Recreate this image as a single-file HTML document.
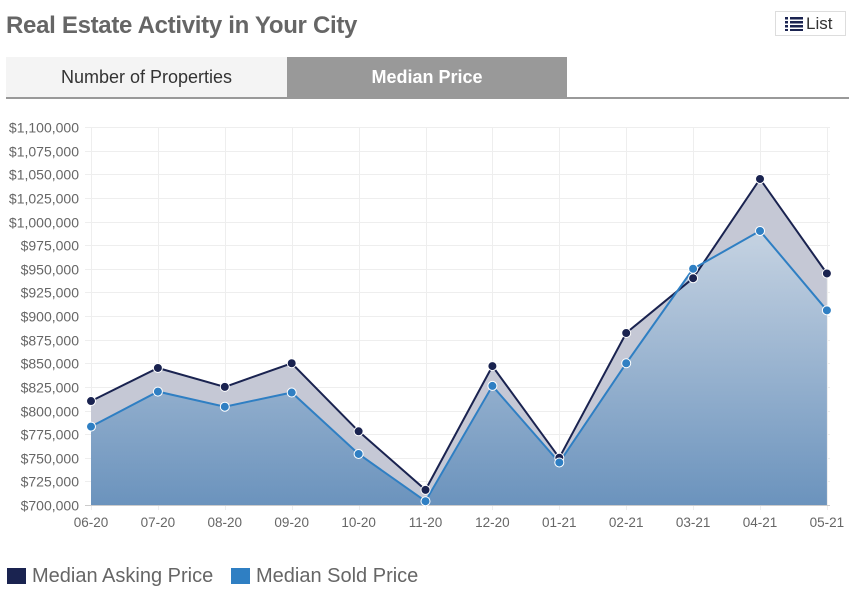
<!DOCTYPE html>
<html><head><meta charset="utf-8"><style>
body{margin:0;width:850px;height:602px;background:#fff;font-family:"Liberation Sans",sans-serif;position:relative;overflow:hidden}
.t{position:absolute;left:6px;top:12px;font-size:24px;color:#666;font-weight:bold;letter-spacing:-0.3px}
.list{position:absolute;left:775px;top:11px;width:71px;height:25px;border:1px solid #ddd;box-sizing:border-box;font-size:17px;color:#333;line-height:23px;padding-left:30px}
.tab1{position:absolute;left:6px;top:57px;width:281px;height:40px;background:#f4f4f4;text-align:center;line-height:40px;font-size:18px;color:#333}
.tab2{position:absolute;left:287px;top:57px;width:280px;height:40px;background:#999;text-align:center;line-height:40px;font-size:18px;color:#fff;font-weight:bold}
.bar{position:absolute;left:6px;top:97px;width:843px;height:2px;background:#999}
.leg{position:absolute;top:565px;font-size:20px;color:#666}
.sw{position:absolute;top:568px;width:19px;height:16px}
</style></head><body>
<div class="t">Real Estate Activity in Your City</div>
<div class="list"><svg style="position:absolute;left:9px;top:5px" width="18" height="14"><g fill="#1a2350"><rect x="0" y="0" width="3" height="2.5"/><rect x="5" y="0" width="13" height="2.5"/><rect x="0" y="4" width="3" height="2.5"/><rect x="5" y="4" width="13" height="2.5"/><rect x="0" y="8" width="3" height="2.5"/><rect x="5" y="8" width="13" height="2.5"/><rect x="0" y="12" width="3" height="2"/><rect x="5" y="12" width="13" height="2"/></g></svg>List</div>
<div class="tab1">Number of Properties</div>
<div class="tab2">Median Price</div>
<div class="bar"></div>
<svg style="position:absolute;left:0;top:0" width="850" height="602">
<defs><linearGradient id="g" x1="0" y1="230" x2="0" y2="505" gradientUnits="userSpaceOnUse"><stop offset="0" stop-color="#c6d3e2"/><stop offset="1" stop-color="#6b93bd"/></linearGradient></defs>
<g stroke="#eee" stroke-width="1" id="grid"></g>
<g font-size="14" fill="#666" text-anchor="end" id="yl"></g>
<g font-size="13.5" fill="#666" text-anchor="middle" id="xl"></g>
<path id="a1" fill="#c5c8d5"/>
<path id="a2" fill="url(#g)"/>
<line x1="85" y1="505.5" x2="830" y2="505.5" stroke="#ccc"/>
<polyline id="l1" fill="none" stroke="#1a2350" stroke-width="2"/>
<polyline id="l2" fill="none" stroke="#2f7fc3" stroke-width="2"/>
<g id="d"></g>
</svg>
<div class="sw" style="left:7px;background:#1a2350"></div><div class="leg" style="left:32px">Median Asking Price</div>
<div class="sw" style="left:231px;background:#2f7fc3"></div><div class="leg" style="left:256px">Median Sold Price</div>
<script>
var ns="http://www.w3.org/2000/svg";
function el(p,t,a,txt){var e=document.createElementNS(ns,t);for(var k in a)e.setAttribute(k,a[k]);if(txt)e.textContent=txt;document.getElementById(p).appendChild(e);return e;}
var X=function(i){return 91+i*66.9},Y=function(v){return 505-(v-700000)/400000*378};
for(var i=0;i<=16;i++){var v=700000+i*25000,y=Math.round(Y(v))+0.5;el("grid","line",{x1:85,x2:830,y1:y,y2:y});
el("yl","text",{x:79,y:y+5},"$"+v.toLocaleString("en-US"));}
var lab=["06-20","07-20","08-20","09-20","10-20","11-20","12-20","01-21","02-21","03-21","04-21","05-21"];
for(var i=0;i<12;i++){var x=Math.round(X(i))+0.5;el("grid","line",{x1:x,x2:x,y1:127,y2:510});el("xl","text",{x:X(i),y:527},lab[i]);}
var A=[810,845,825,850,778,716,847,750,882,940,1045,945],S=[783,820,804,819,754,704,826,745,850,950,990,906];
function pts(d){return d.map(function(v,i){return X(i).toFixed(1)+","+Y(v*1000).toFixed(1)}).join(" ")}
document.getElementById("a1").setAttribute("d","M"+pts(A)+" L"+X(11)+",505 L"+X(0)+",505Z");
document.getElementById("a2").setAttribute("d","M"+pts(S)+" L"+X(11)+",505 L"+X(0)+",505Z");
document.getElementById("l1").setAttribute("points",pts(A));
document.getElementById("l2").setAttribute("points",pts(S));
for(var i=0;i<12;i++){el("d","circle",{cx:X(i),cy:Y(A[i]*1000),r:4.5,fill:"#1a2350",stroke:"#fff","stroke-width":1});
el("d","circle",{cx:X(i),cy:Y(S[i]*1000),r:4.5,fill:"#2f7fc3",stroke:"#fff","stroke-width":1});}
</script>
</body></html>
